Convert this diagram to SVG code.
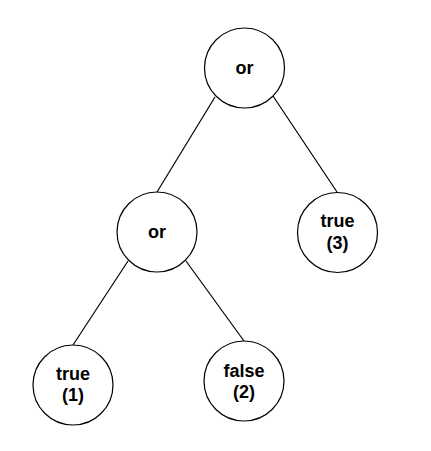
<svg xmlns="http://www.w3.org/2000/svg" width="431" height="451" viewBox="0 0 431 451">
<style>
.n{fill:#fff;stroke:#000;stroke-width:1.2}
.t{font-family:"Liberation Sans",Arial,sans-serif;font-weight:bold;font-size:18px;text-anchor:middle;fill:#000}
.e{stroke:#000;stroke-width:1.2;fill:none}
</style>
<rect width="431" height="451" fill="#fff"/>
<g id="edges">
<line class="e" x1="215" y1="97" x2="157" y2="192"/>
<line class="e" x1="273" y1="96" x2="337" y2="192"/>
<line class="e" x1="128" y1="261" x2="73" y2="345"/>
<line class="e" x1="186" y1="261" x2="244" y2="341"/>
</g>
<g id="or-top">
<circle class="n" cx="244.5" cy="68" r="40"/>
<text class="t" x="244.5" y="73.5">or</text>
</g>
<g id="or-left">
<circle class="n" cx="157" cy="232" r="40"/>
<text class="t" x="157" y="238">or</text>
</g>
<g id="true3">
<circle class="n" cx="337.5" cy="232.5" r="40"/>
<text class="t" x="337.5" y="227">true</text>
<text class="t" x="337.5" y="248.5">(3)</text>
</g>
<g id="true1">
<circle class="n" cx="73" cy="385" r="40"/>
<text class="t" x="73" y="380">true</text>
<text class="t" x="73" y="401">(1)</text>
</g>
<g id="false2">
<circle class="n" cx="244" cy="381" r="40"/>
<text class="t" x="244" y="377">false</text>
<text class="t" x="244" y="398">(2)</text>
</g>
</svg>
